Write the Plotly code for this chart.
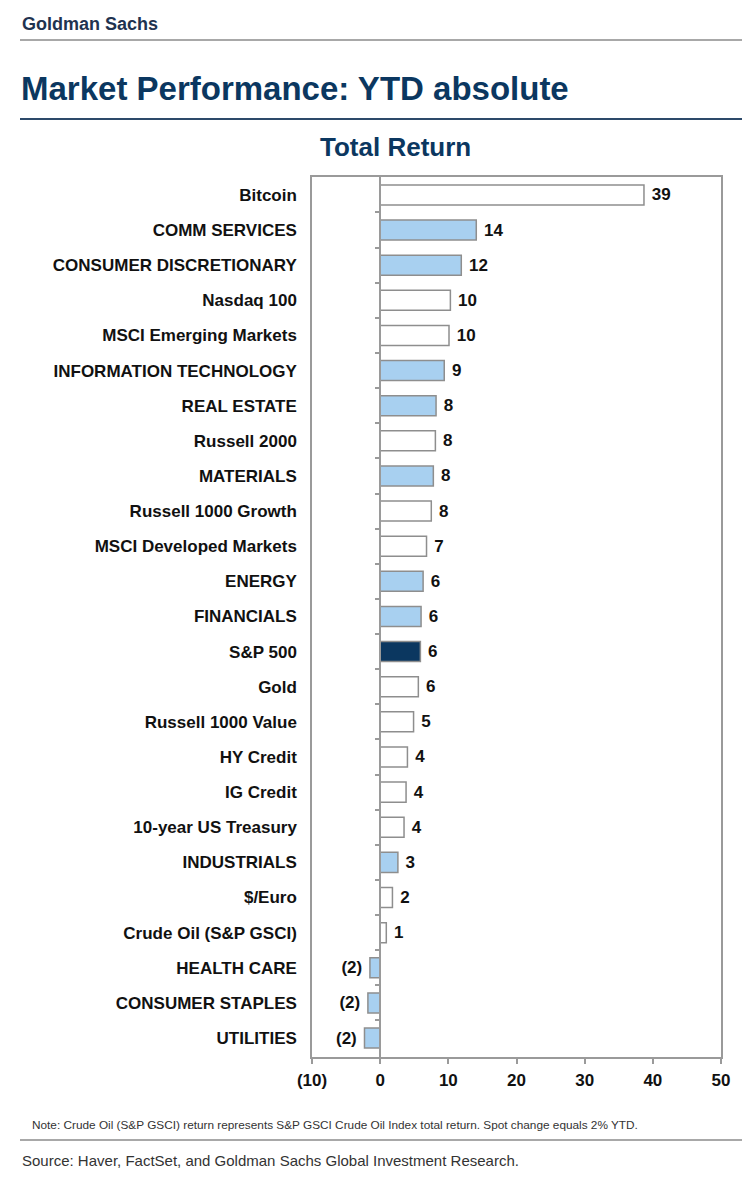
import plotly.graph_objects as go

# YTD total return, %, top to bottom
categories = [
    "Bitcoin", "COMM SERVICES", "CONSUMER DISCRETIONARY", "Nasdaq 100",
    "MSCI Emerging Markets", "INFORMATION TECHNOLOGY", "REAL ESTATE",
    "Russell 2000", "MATERIALS", "Russell 1000 Growth", "MSCI Developed Markets",
    "ENERGY", "FINANCIALS", "S&P 500", "Gold", "Russell 1000 Value",
    "HY Credit", "IG Credit", "10-year US Treasury", "INDUSTRIALS", "$/Euro",
    "Crude Oil (S&P GSCI)", "HEALTH CARE", "CONSUMER STAPLES", "UTILITIES",
]
returns = [
    38.7, 14.1, 11.9, 10.3, 10.1, 9.4, 8.2, 8.1, 7.8, 7.5, 6.8, 6.3, 6.0,
    5.9, 5.6, 4.9, 4.0, 3.8, 3.5, 2.6, 1.8, 0.9, -1.5, -1.8, -2.3,
]
kinds = [
    "asset", "sector", "sector", "asset", "asset", "sector", "sector",
    "asset", "sector", "asset", "asset", "sector", "sector", "spx", "asset",
    "asset", "asset", "asset", "asset", "sector", "asset", "asset",
    "sector", "sector", "sector",
]
x_ticks = [-10, 0, 10, 20, 30, 40, 50]

NAVY = "#0b3760"
GREY = "#8e8e8e"
colors = {"asset": "#ffffff", "sector": "#a8d0f0", "spx": NAVY}
FONT = "Liberation Sans, Arial"

# page body adds an 8px margin, so work in window pixels and shift back
OFF = 8
W, H = 750 - OFF, 1177 - OFF
L, R, T, B = 312 - OFF, 721 - OFF, 177 - OFF, 1057 - OFF


def px(x):
    return (x - OFF - L) / (R - L)


def py(y):
    return (B - (y - OFF)) / (B - T)


def fmt(v):
    v = round(v)
    return f"({abs(v)})" if v < 0 else str(v)


pos = list(range(len(categories)))
bar_text = [" " + fmt(v) if v >= 0 else fmt(v) + " " for v in returns]

fig = go.Figure()
fig.add_trace(go.Bar(
    y=pos,
    x=returns,
    orientation="h",
    width=0.57,
    marker=dict(color=[colors[k] for k in kinds], line=dict(color=GREY, width=1.5)),
    text=bar_text,
    textposition="outside",
    textfont=dict(family=FONT, size=17, color="#111111", weight="bold"),
    cliponaxis=False,
    hoverinfo="skip",
))
# invisible trace so the zero-line axis gets drawn
fig.add_trace(go.Scatter(y=pos, x=[0] * len(pos), yaxis="y2", mode="markers",
                         marker=dict(opacity=0), hoverinfo="skip"))

yrange = [len(categories) - 1 + 0.54, -0.51]

fig.update_layout(
    width=W, height=H,
    margin=dict(l=L, r=W - R, t=T, b=H - B),
    paper_bgcolor="white", plot_bgcolor="white",
    showlegend=False,
    uniformtext=dict(minsize=8, mode="show"),
    xaxis=dict(
        range=[-10, 50], tickvals=x_ticks,
        ticktext=[fmt(v) for v in x_ticks],
        showgrid=False, zeroline=False,
        showline=True, mirror=True, linecolor="#9a9a9a", linewidth=1.5,
        ticks="outside", ticklen=5, tickcolor="#9a9a9a", tickwidth=1.5,
        tickfont=dict(family=FONT, size=17, color="#111111", weight="bold"),
        ticklabelstandoff=2,
    ),
    yaxis=dict(
        range=yrange, tickvals=pos, ticktext=categories,
        showgrid=False, zeroline=False,
        showline=True, mirror=True, linecolor="#9a9a9a", linewidth=1.5,
        ticks="", ticklabelstandoff=10,
        tickfont=dict(family=FONT, size=17, color="#111111", weight="bold"),
    ),
    yaxis2=dict(
        range=yrange, overlaying="y", anchor="free", position=px(380),
        tickvals=[p + 0.5 for p in pos[:-1]], showticklabels=False,
        showgrid=False, zeroline=False,
        showline=True, linecolor="#9a9a9a", linewidth=1.5,
        ticks="outside", ticklen=4, tickcolor="#9a9a9a", tickwidth=1.5,
    ),
)

# header and footer text
fig.add_annotation(x=px(20), y=py(24), xref="paper", yref="paper", text="<b>Goldman Sachs</b>",
                   showarrow=False, xanchor="left", yanchor="middle",
                   font=dict(family=FONT, size=18, color="#1f3350"))
fig.add_annotation(x=px(19), y=py(89), xref="paper", yref="paper",
                   text="<b>Market Performance: YTD absolute</b>",
                   showarrow=False, xanchor="left", yanchor="middle",
                   font=dict(family=FONT, size=33, color=NAVY))
fig.add_annotation(x=px(395), y=py(147), xref="paper", yref="paper", text="<b>Total Return</b>",
                   showarrow=False, xanchor="center", yanchor="middle",
                   font=dict(family=FONT, size=26, color=NAVY))
fig.add_annotation(x=px(30), y=py(1125), xref="paper", yref="paper",
                   text="Note: Crude Oil (S&P GSCI) return represents S&P GSCI Crude Oil Index total return. Spot change equals 2% YTD.",
                   showarrow=False, xanchor="left", yanchor="middle",
                   font=dict(family=FONT, size=11.8, color="#333333"))
fig.add_annotation(x=px(20), y=py(1160), xref="paper", yref="paper",
                   text="Source: Haver, FactSet, and Goldman Sachs Global Investment Research.",
                   showarrow=False, xanchor="left", yanchor="middle",
                   font=dict(family=FONT, size=15, color="#333333"))

# rules
fig.add_shape(type="line", xref="paper", yref="paper", x0=px(20), x1=px(750), y0=py(40), y1=py(40),
              line=dict(color="#a8a8a8", width=2))
fig.add_shape(type="line", xref="paper", yref="paper", x0=px(20), x1=px(750), y0=py(119), y1=py(119),
              line=dict(color="#2d4a6a", width=2))
fig.add_shape(type="line", xref="paper", yref="paper", x0=px(20), x1=px(750), y0=py(1140), y1=py(1140),
              line=dict(color="#a8a8a8", width=2))

fig.write_html("out.html")
